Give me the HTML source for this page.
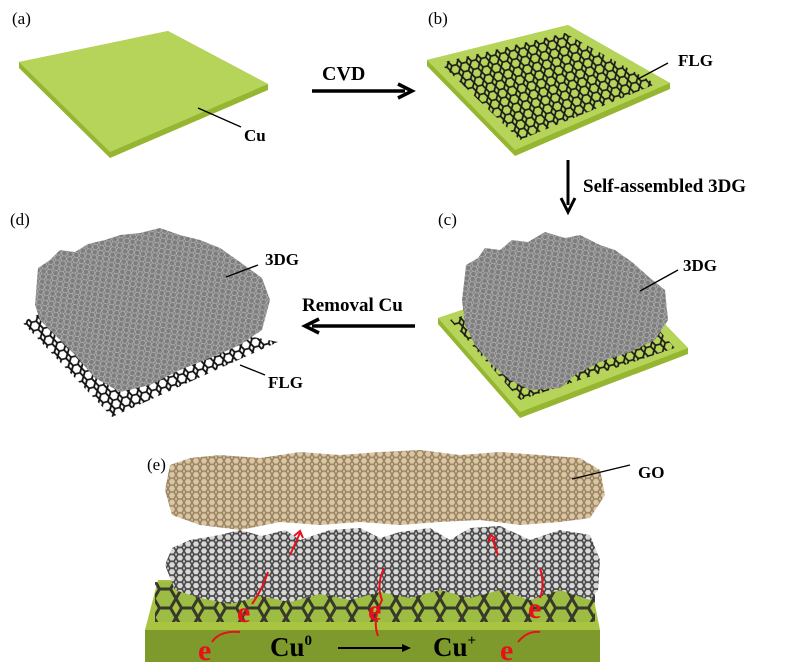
<!DOCTYPE html>
<html><head><meta charset="utf-8"><style>
html,body{margin:0;padding:0;background:#fff;}
svg{display:block;}
text{font-family:"Liberation Serif",serif;}
</style></head><body>
<svg width="800" height="670" viewBox="0 0 800 670" xmlns="http://www.w3.org/2000/svg">
<defs>
  <pattern id="hexD" width="10" height="8.66" patternUnits="userSpaceOnUse" patternTransform="rotate(-14)">
    <path d="M2.5 0 L7.5 0 L10 4.33 L7.5 8.66 L2.5 8.66 L0 4.33 Z" fill="none" stroke="#1a1a1a" stroke-width="1.7"/>
  </pattern>
  <pattern id="hexG" width="6" height="5.2" patternUnits="userSpaceOnUse" patternTransform="rotate(8)">
    <rect width="6" height="5.2" fill="#7e7e7e"/>
    <path d="M1.5 0 L4.5 0 L6 2.6 L4.5 5.2 L1.5 5.2 L0 2.6 Z" fill="none" stroke="#b4b4b4" stroke-width="0.7"/>
  </pattern>
  <pattern id="hexT" width="8" height="6.93" patternUnits="userSpaceOnUse">
    <rect width="8" height="6.93" fill="#d8c6a6"/>
    <path d="M2 0 L6 0 L8 3.46 L6 6.93 L2 6.93 L0 3.46 Z" fill="none" stroke="#9c8460" stroke-width="1.6"/>
  </pattern>
  <pattern id="hexK" width="8" height="6.93" patternUnits="userSpaceOnUse">
    <rect width="8" height="6.93" fill="#d8d8d8"/>
    <path d="M2 0 L6 0 L8 3.46 L6 6.93 L2 6.93 L0 3.46 Z" fill="none" stroke="#4a4a4a" stroke-width="1.7"/>
  </pattern>
  <pattern id="hexW" width="10" height="8.66" patternUnits="userSpaceOnUse" patternTransform="rotate(-14)">
    <rect width="10" height="8.66" fill="#fff"/>
    <path d="M2.5 0 L7.5 0 L10 4.33 L7.5 8.66 L2.5 8.66 L0 4.33 Z" fill="none" stroke="#111" stroke-width="1.8"/>
  </pattern>
  <pattern id="hexB" width="22" height="19" patternUnits="userSpaceOnUse">
    <path d="M5.5 0 L16.5 0 L22 9.5 L16.5 19 L5.5 19 L0 9.5 Z" fill="#9bbb45" stroke="#2a2a2a" stroke-width="3"/>
  </pattern>
</defs>

<!-- (a) -->
<text x="12" y="24" font-size="17">(a)</text>
<polygon points="19,62 168,31 268,84 268,90 110,158 19,68" fill="#96b530"/>
<polygon points="19,62 168,31 268,84 110,152" fill="#b7d45a"/>
<line x1="198" y1="108" x2="241" y2="127" stroke="#000" stroke-width="1.3"/>
<text x="244" y="141" font-size="17" font-weight="bold">Cu</text>

<!-- CVD arrow -->
<text x="322" y="80" font-size="20" font-weight="bold">CVD</text>
<line x1="312" y1="91" x2="405" y2="91" stroke="#000" stroke-width="3.5"/>
<polyline points="398,84 412,91 398,98" fill="none" stroke="#000" stroke-width="3.5"/>

<!-- (b) -->
<text x="428" y="24" font-size="17">(b)</text>
<polygon points="427,60 568,25 670,83 670,89 515,156 427,66" fill="#96b530"/>
<polygon points="427,60 568,25 670,83 515,150" fill="#b7d45a"/>
<polygon points="440,63 565,33 656,84 520,140" fill="url(#hexD)"/>
<line x1="638" y1="79" x2="668" y2="63" stroke="#000" stroke-width="1.3"/>
<text x="678" y="66" font-size="17" font-weight="bold">FLG</text>

<!-- Self-assembled arrow -->
<line x1="568" y1="160" x2="568" y2="205" stroke="#000" stroke-width="3"/>
<polyline points="561,198 568,212 575,198" fill="none" stroke="#000" stroke-width="3"/>
<text x="583" y="192" font-size="19" font-weight="bold">Self-assembled 3DG</text>

<!-- (c) -->
<text x="438" y="225" font-size="17">(c)</text>
<polygon points="438,318 605,262 688,348 688,354 520,418 438,324" fill="#96b530"/>
<polygon points="438,318 605,262 688,348 520,412" fill="#b7d45a"/>
<polygon points="450,320 605,270 675,348 520,400" fill="url(#hexD)"/>
<path d="M462,300 L466,265 L478,258 L485,248 L500,250 L512,240 L528,242 L545,232 L565,238 L580,235 L600,245 L615,250 L632,262 L650,278 L665,290 L668,320 L655,340 L630,352 L600,362 L575,375 L560,388 L530,390 L510,380 L492,365 L475,345 L465,325 Z" fill="url(#hexG)"/>
<line x1="640" y1="291" x2="678" y2="270" stroke="#000" stroke-width="1.3"/>
<text x="683" y="271" font-size="17" font-weight="bold">3DG</text>

<!-- Removal arrow -->
<text x="302" y="311" font-size="19" font-weight="bold">Removal Cu</text>
<line x1="312" y1="326" x2="415" y2="326" stroke="#000" stroke-width="3.5"/>
<polyline points="319,319 305,326 319,333" fill="none" stroke="#000" stroke-width="3.5"/>

<!-- (d) -->
<text x="10" y="225" font-size="17">(d)</text>
<polygon points="22,322 70,300 278,342 112,417" fill="url(#hexW)"/>
<path d="M35,305 L38,268 L50,260 L60,250 L75,252 L88,244 L105,240 L120,235 L140,233 L160,228 L180,235 L200,240 L220,248 L240,262 L262,278 L270,300 L262,330 L240,345 L210,358 L180,370 L150,385 L120,392 L95,378 L75,355 L55,335 L40,320 Z" fill="url(#hexG)"/>
<line x1="226" y1="277" x2="258" y2="265" stroke="#000" stroke-width="1.3"/>
<text x="265" y="265" font-size="17" font-weight="bold">3DG</text>
<line x1="240" y1="365" x2="265" y2="375" stroke="#000" stroke-width="1.3"/>
<text x="268" y="388" font-size="17" font-weight="bold">FLG</text>

<!-- (e) -->
<text x="147" y="470" font-size="17">(e)</text>
<path d="M165,490 L170,465 L190,458 L220,455 L260,458 L300,452 L340,455 L380,452 L420,450 L460,455 L500,452 L540,455 L580,458 L600,470 L605,495 L590,518 L560,522 L520,525 L480,520 L440,522 L400,525 L360,522 L320,525 L280,522 L240,530 L200,525 L172,515 Z" fill="url(#hexT)"/>
<line x1="572" y1="479" x2="630" y2="465" stroke="#000" stroke-width="1.3"/>
<text x="638" y="478" font-size="17" font-weight="bold">GO</text>

<polygon points="145,630 600,630 600,662 145,662" fill="#7f9a2c"/>
<polygon points="158,580 590,580 600,630 145,630" fill="#a8c440"/>
<rect x="155" y="582" width="440" height="40" fill="url(#hexB)" opacity="0.9"/>
<path d="M165,565 L172,548 L190,540 L220,535 L240,530 L262,536 L285,530 L300,540 L330,530 L360,528 L380,538 L400,532 L430,528 L450,540 L470,528 L500,526 L530,540 L560,530 L590,535 L600,560 L598,590 L590,600 L560,590 L530,600 L500,590 L470,598 L440,590 L410,598 L380,592 L350,600 L320,594 L290,602 L260,596 L230,604 L200,598 L175,590 Z" fill="url(#hexK)"/>

<g fill="#e8101a" font-weight="bold" font-size="30">
<text x="198" y="660">e</text>
<text x="237" y="622">e</text>
<text x="368" y="620">e</text>
<text x="528" y="618">e</text>
<text x="500" y="660">e</text>
</g>
<g fill="none" stroke="#e8101a" stroke-width="2">
<path d="M212,642 Q220,630 240,632"/>
<path d="M252,604 Q262,590 268,572"/>
<path d="M290,555 L300,533"/><polyline points="294,536 300,531 303,538"/>
<path d="M378,636 Q372,620 382,600 Q376,585 384,568"/>
<path d="M518,642 Q528,630 540,632"/>
<path d="M540,598 Q545,585 540,568"/>
<path d="M498,555 L492,538"/><polyline points="488,542 491,535 497,540"/>
</g>

<text x="270" y="656" font-size="27" font-weight="bold">Cu<tspan font-size="15" dy="-11">0</tspan></text>
<line x1="338" y1="648" x2="403" y2="648" stroke="#000" stroke-width="2"/>
<polygon points="402,644 411,648 402,652" fill="#000"/>
<text x="433" y="656" font-size="27" font-weight="bold">Cu<tspan font-size="15" dy="-11">+</tspan></text>
</svg>
</body></html>
